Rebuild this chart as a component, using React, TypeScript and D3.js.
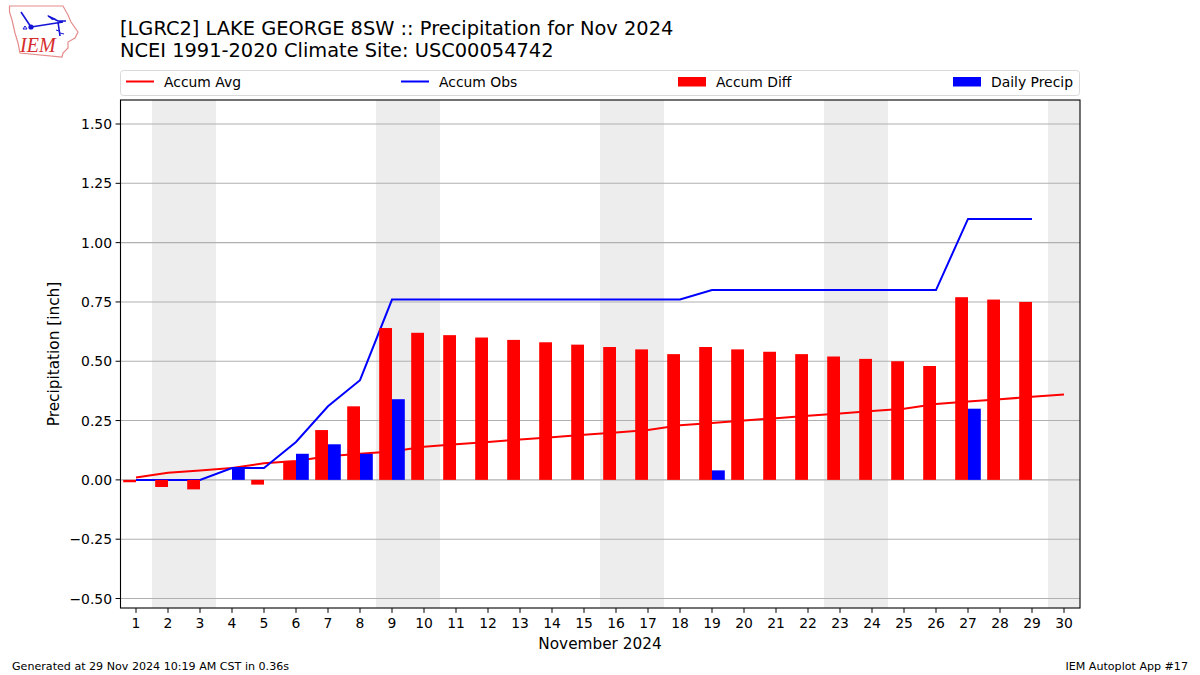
import React from "react";
import * as d3 from "d3";

const days = d3.range(1, 31);
const accumAvg = [0.01,0.03,0.04,0.05,0.07,0.08,0.10,0.11,0.12,0.14,0.15,0.16,0.17,0.18,0.19,0.20,0.21,0.23,0.24,0.25,0.26,0.27,0.28,0.29,0.30,0.32,0.33,0.34,0.35,0.36];
const accumObs = [0,0,0,0.05,0.05,0.16,0.31,0.42,0.76,0.76,0.76,0.76,0.76,0.76,0.76,0.76,0.76,0.76,0.80,0.80,0.80,0.80,0.80,0.80,0.80,0.80,1.10,1.10,1.10];
const accumDiff = [-0.01,-0.03,-0.04,0,-0.02,0.08,0.21,0.31,0.64,0.62,0.61,0.60,0.59,0.58,0.57,0.56,0.55,0.53,0.56,0.55,0.54,0.53,0.52,0.51,0.50,0.48,0.77,0.76,0.75];
const dailyPrecip = [0,0,0,0.05,0,0.11,0.15,0.11,0.34,0,0,0,0,0,0,0,0,0,0.04,0,0,0,0,0,0,0,0.30,0,0];
const weekends = [[1.5,3.5],[8.5,10.5],[15.5,17.5],[22.5,24.5],[29.5,30.5]];
const yTicks = [-0.5,-0.25,0,0.25,0.5,0.75,1,1.25,1.5];
const legendItems = [
  { label: "Accum Avg", color: "#ff0000", kind: "line", x: 126 },
  { label: "Accum Obs", color: "#0000ff", kind: "line", x: 401 },
  { label: "Accum Diff", color: "#ff0000", kind: "bar", x: 678 },
  { label: "Daily Precip", color: "#0000ff", kind: "bar", x: 953 },
];
const titleLines = ["[LGRC2] LAKE GEORGE 8SW :: Precipitation for Nov 2024", "NCEI 1991-2020 Climate Site: USC00054742"];

const L = 120.5, R = 1080, T = 100, B = 608;
const x = d3.scaleLinear().domain([0.5, 30.5]).range([120, 1080]);
const y = d3.scaleLinear().domain([-0.5, 1.5]).range([598.5, 124]);
const font = "'DejaVu Sans', sans-serif";
const fmt = (v: number) => (v < 0 ? "\u2212" : "") + Math.abs(v).toFixed(2);

const line = (vals: number[]) =>
  d3.line<number>().x((_, i) => x(days[i])).y((v) => y(v))(vals) || "";

function Logo() {
  return (
    <g>
      <path d="M9.5 6 L63 6 L68 15 L71 22 L78 32 L75 38 L68 42 L68 48 L63 53 L62 57 L20 53 L18 43 L15 33 L12 20 L9.5 12 Z" fill="#fff" stroke="#e58c8c" strokeWidth={1.2} />
      <path d="M31 27 L63 22 M21 12 L31 27 M48 16 L58 21 L66 21 M58 22 L60 36" fill="none" stroke="#1414d8" strokeWidth={1.6} />
      <path d="M47 15 L56 19 L52 20 Z" fill="#1414d8" />
      <circle cx={31} cy={27} r={2.6} fill="#1414d8" />
      <path d="M23 29 l2 -3 l2 3 Z M56 30 l3 1 M60 33 l4 1" fill="none" stroke="#1414d8" strokeWidth={1} />
      <text x={20} y={52} fontFamily="'Liberation Serif', serif" fontStyle="italic" fontSize={20} fill="#d62c2c">IEM</text>
    </g>
  );
}

export default function App() {
  return (
    <svg width={1200} height={675} viewBox="0 0 1200 675" style={{ position: "absolute", left: 0, top: 0, background: "#fff" }} fontFamily={font}>
      <Logo />
      {titleLines.map((t, i) => (
        <text key={t} x={120} y={35 + i * 22} fontSize={19.4} fill="#000">{t}</text>
      ))}

      <rect x={120.5} y={70.5} width={959} height={25} rx={3} fill="#fff" stroke="#d9d9d9" />
      {legendItems.map((it) => (
        <g key={it.label}>
          {it.kind === "line"
            ? <line x1={it.x} x2={it.x + 28} y1={81.5} y2={81.5} stroke={it.color} strokeWidth={2} />
            : <rect x={it.x} y={77} width={28} height={9.5} fill={it.color} />}
          <text x={it.x + 38} y={86.5} fontSize={13.9} fill="#000">{it.label}</text>
        </g>
      ))}

      <defs>
        <clipPath id="plot"><rect x={L} y={T} width={R - L} height={B - T} /></clipPath>
      </defs>
      <g clipPath="url(#plot)">
        {weekends.map(([a, b]) => (
          <rect key={a} x={x(a)} y={T} width={x(b) - x(a)} height={B - T} fill="#ededed" />
        ))}
        {yTicks.map((t) => (
          <line key={t} x1={L} x2={R} y1={y(t)} y2={y(t)} stroke="#b0b0b0" strokeWidth={1.1} />
        ))}
        <path d={line(accumAvg)} fill="none" stroke="#ff0000" strokeWidth={2} />
        <path d={line(accumObs)} fill="none" stroke="#0000ff" strokeWidth={2} />
        {accumDiff.map((v, i) => v !== 0 && (
          <rect key={i} x={x(days[i] - 0.4)} width={x(0.9) - x(0.5)} y={y(Math.max(v, 0))} height={Math.abs(y(v) - y(0))} fill="#ff0000" />
        ))}
        {dailyPrecip.map((v, i) => v !== 0 && (
          <rect key={i} x={x(days[i])} width={x(0.9) - x(0.5)} y={y(v)} height={y(0) - y(v)} fill="#0000ff" />
        ))}
      </g>

      <rect x={L} y={T} width={R - L} height={B - T} fill="none" stroke="#000" strokeWidth={1.1} />
      {yTicks.map((t) => (
        <g key={t}>
          <line x1={L - 4.9} x2={L} y1={y(t)} y2={y(t)} stroke="#000" strokeWidth={1} />
          <text x={L - 8.5} y={y(t) + 5} textAnchor="end" fontSize={13.9} fill="#000">{fmt(t)}</text>
        </g>
      ))}
      {days.map((d) => (
        <g key={d}>
          <line x1={x(d)} x2={x(d)} y1={B} y2={B + 4.9} stroke="#000" strokeWidth={1} />
          <text x={x(d)} y={B + 20} textAnchor="middle" fontSize={13.9} fill="#000">{d}</text>
        </g>
      ))}
      <text x={600} y={649} textAnchor="middle" fontSize={15.3} fill="#000">November 2024</text>
      <text transform="translate(58.5,354) rotate(-90)" textAnchor="middle" fontSize={15.3} fill="#000">Precipitation [inch]</text>
      <text x={12} y={670} fontSize={11.1} fill="#000">Generated at 29 Nov 2024 10:19 AM CST in 0.36s</text>
      <text x={1188} y={670} textAnchor="end" fontSize={11.1} fill="#000">IEM Autoplot App #17</text>
    </svg>
  );
}
